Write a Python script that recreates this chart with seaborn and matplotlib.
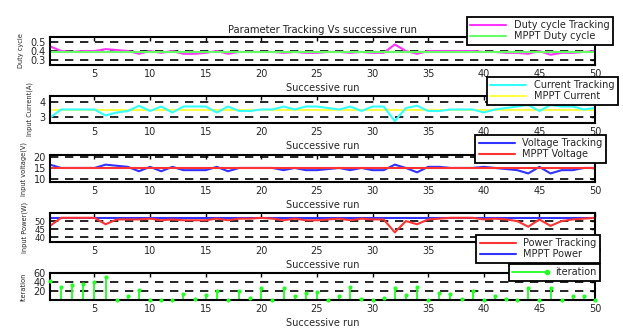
import matplotlib
matplotlib.use("Agg")
import matplotlib.pyplot as plt
import numpy as np
import pandas as pd
import seaborn as sns
from matplotlib.lines import Line2D
from matplotlib.legend_handler import HandlerBase

# ---- data -------------------------------------------------------------
run = list(range(1, 51))

duty_tracking = [0.45, 0.40, 0.39, 0.40, 0.40, 0.42, 0.41, 0.40, 0.37, 0.40,
                 0.38, 0.40, 0.37, 0.37, 0.38, 0.40, 0.37, 0.39, 0.39, 0.39,
                 0.39, 0.38, 0.39, 0.38, 0.38, 0.39, 0.39, 0.38, 0.39, 0.38,
                 0.38, 0.47, 0.40, 0.37, 0.40, 0.40, 0.40, 0.40, 0.40, 0.39,
                 0.39, 0.38, 0.38, 0.37, 0.40, 0.36, 0.38, 0.38, 0.39, 0.40]
duty_mppt = 0.39

current_tracking = [2.95, 3.50, 3.50, 3.50, 3.50, 3.10, 3.30, 3.40, 3.75, 3.40,
                    3.70, 3.30, 3.70, 3.70, 3.70, 3.30, 3.70, 3.40, 3.40, 3.50,
                    3.50, 3.70, 3.50, 3.70, 3.70, 3.60, 3.50, 3.70, 3.40, 3.70,
                    3.70, 2.72, 3.60, 3.75, 3.40, 3.40, 3.50, 3.50, 3.50, 3.30,
                    3.50, 3.60, 3.70, 3.80, 3.40, 3.80, 3.70, 3.70, 3.50, 3.60]
current_mppt = 3.5

voltage_tracking = [16.5, 15.0, 15.0, 15.0, 15.0, 16.5, 16.0, 15.5, 13.5, 15.5,
                    13.5, 15.5, 14.0, 14.0, 14.0, 15.5, 13.5, 15.0, 15.0, 15.0,
                    15.0, 14.0, 15.0, 14.0, 14.0, 14.5, 15.0, 14.0, 15.0, 14.0,
                    14.0, 16.5, 15.0, 13.0, 15.5, 15.5, 15.0, 15.0, 15.0, 15.5,
                    15.0, 14.5, 14.0, 12.5, 15.5, 12.5, 14.0, 14.0, 15.0, 15.0]
voltage_mppt = 15.0

power_tracking = [47.0, 52.0, 52.0, 52.0, 52.0, 48.0, 51.0, 51.0, 51.0, 51.5,
                  50.5, 51.0, 50.5, 50.5, 50.5, 51.5, 50.5, 51.5, 51.5, 52.0,
                  51.5, 50.5, 51.5, 50.5, 50.5, 51.0, 51.5, 50.5, 51.5, 51.0,
                  51.0, 43.0, 50.0, 48.0, 51.0, 51.5, 52.0, 52.0, 52.0, 51.0,
                  51.5, 51.0, 50.0, 46.5, 51.0, 47.0, 50.0, 51.0, 51.5, 52.0]
power_mppt = 52.2

iterations = [42, 28, 33, 36, 39, 51, 0, 8, 23, 1,
              0, 0, 14, 3, 11, 21, 0, 20, 4, 27,
              0, 27, 10, 15, 17, 1, 10, 29, 3, 0,
              4, 27, 12, 28, 0, 15, 13, 3, 20, 0,
              8, 3, 1, 27, 0, 27, 0, 8, 10, 1]

xticks = [5, 10, 15, 20, 25, 30, 35, 40, 45, 50]

# ---- style ------------------------------------------------------------
sns.set_style("white")
plt.rcParams["font.family"] = ["DejaVu Sans"]
plt.rcParams["axes.linewidth"] = 1.5

W, H = 623, 329
fig = plt.figure(figsize=(W / 100, H / 100), dpi=100)

# axes boxes in pixel coordinates (top, bottom)
left_px, right_px = 50, 595
rows = [(37, 65), (96, 123), (155, 182), (213, 242), (273, 300)]
axes = []
for top, bot in rows:
    ax = fig.add_axes([left_px / W, 1 - bot / H, (right_px - left_px) / W, (bot - top) / H])
    axes.append(ax)

df = pd.DataFrame({"run": run,
                   "duty": duty_tracking,
                   "current": current_tracking,
                   "voltage": voltage_tracking,
                   "power": power_tracking,
                   "iter": iterations})

lw = 1.5
tick_fs = 7.0
lab_fs = 7.0
leg_fs = 7.0


class EndDotHandler(HandlerBase):
    """Legend key: a line with a single dot at its right end."""

    def create_artists(self, legend, orig_handle, xdescent, ydescent,
                       width, height, fontsize, trans):
        y = height / 2 - ydescent
        x0, x1 = -xdescent, width - xdescent
        line = Line2D([x0, x1], [y, y], color=orig_handle.get_color(),
                      lw=orig_handle.get_linewidth())
        dot = Line2D([x1], [y], ls="none", marker="o",
                     markersize=orig_handle.get_markersize(),
                     color=orig_handle.get_color())
        line.set_transform(trans)
        dot.set_transform(trans)
        return [line, dot]


def style_axis(ax, ylim, yticks, ylabel, ytick_fs=tick_fs):
    ax.set_xlim(1, 50)
    ax.set_ylim(*ylim)
    ax.set_xticks(xticks)
    ax.set_yticks(yticks)
    ax.tick_params(direction="in", length=3, width=1.0, top=True, right=True,
                   labelsize=tick_fs, pad=3, color="black")
    ax.tick_params(axis="y", labelsize=ytick_fs)
    for ytk in yticks:
        ax.axhline(ytk, color="black", lw=1.2, ls=(0, (5, 4)), zorder=0.5)
    ax.set_xlabel("Successive run", fontsize=lab_fs, labelpad=3)
    ax.set_ylabel(ylabel, fontsize=4.8, labelpad=5)
    for s in ax.spines.values():
        s.set_color("black")
        s.set_linewidth(1.5)


def add_legend(ax, handles, labels, right, top, handlelength=3.7, **kw):
    leg = ax.legend(handles, labels, loc="upper right",
                    bbox_to_anchor=(right / W, 1 - top / H),
                    bbox_transform=fig.transFigure, fontsize=leg_fs,
                    frameon=True, fancybox=False, framealpha=1,
                    edgecolor="black", borderpad=0.35, labelspacing=0.08,
                    handlelength=handlelength, handletextpad=0.8,
                    borderaxespad=0, **kw)
    leg.get_frame().set_linewidth(1.3)
    leg.set_zorder(10)
    return leg


# panel 1 : duty cycle
ax = axes[0]
c1, c2 = "#ff33ff", "#66ff66"
sns.lineplot(data=df, x="run", y="duty", ax=ax, color=c1, lw=lw)
ax.axhline(duty_mppt, color=c2, lw=lw)
style_axis(ax, (0.25, 0.55), [0.3, 0.4, 0.5], "Duty cycle")
ax.set_title("Parameter Tracking Vs successive run", fontsize=7.2, pad=3)
add_legend(ax, [Line2D([], [], color=c1, lw=lw), Line2D([], [], color=c2, lw=lw)],
           ["Duty cycle Tracking", "MPPT Duty cycle"], 613, 17)

# panel 2 : current
ax = axes[1]
c1, c2 = "#33ffff", "#ffff44"
ax.axhline(current_mppt, color=c2, lw=lw)
sns.lineplot(data=df, x="run", y="current", ax=ax, color=c1, lw=lw)
style_axis(ax, (2.6, 4.4), [3, 4], "Input Current(A)")
add_legend(ax, [Line2D([], [], color=c1, lw=lw), Line2D([], [], color=c2, lw=lw)],
           ["Current Tracking", "MPPT Current"], 618, 77)

# panel 3 : voltage
ax = axes[2]
c1, c2 = "#3333ff", "#ff3333"
sns.lineplot(data=df, x="run", y="voltage", ax=ax, color=c1, lw=lw)
ax.axhline(voltage_mppt, color=c2, lw=lw)
style_axis(ax, (8.6, 20.9), [10, 15, 20], "Input voltage(V)")
add_legend(ax, [Line2D([], [], color=c1, lw=lw), Line2D([], [], color=c2, lw=lw)],
           ["Voltage Tracking", "MPPT Voltage"], 606, 135)

# panel 4 : power
ax = axes[3]
c1, c2 = "#ff3333", "#3333ff"
ax.axhline(power_mppt, color=c2, lw=lw)
sns.lineplot(data=df, x="run", y="power", ax=ax, color=c1, lw=lw)
style_axis(ax, (37, 55), [40, 45, 50], "Input Power(W)", ytick_fs=6.2)
add_legend(ax, [Line2D([], [], color=c1, lw=lw), Line2D([], [], color=c2, lw=lw)],
           ["Power Tracking", "MPPT Power"], 600, 235)

# panel 5 : iterations
ax = axes[4]
cg = "#22ff22"
ax.vlines(df["run"], 0, df["iter"], color=cg, lw=1.3, zorder=2)
sns.scatterplot(data=df, x="run", y="iter", ax=ax, color=cg, s=9,
                edgecolor=cg, linewidth=0, zorder=3, clip_on=False)
style_axis(ax, (0, 60), [20, 40, 60], "Iteration")
h = Line2D([], [], color=cg, lw=1.3, marker="o", markersize=3)
add_legend(ax, [h], ["iteration"], 600, 264, handlelength=3.6,
           handler_map={Line2D: EndDotHandler()})

fig.savefig("out.png", dpi=100)
